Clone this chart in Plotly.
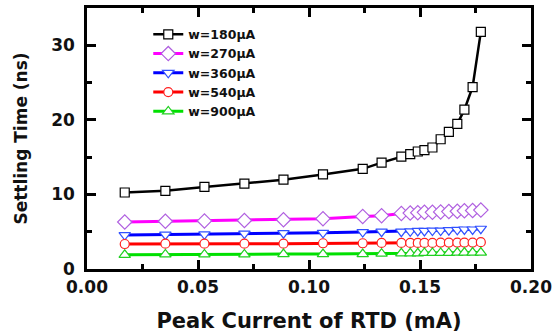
import plotly.graph_objects as go

# Peak current of RTD (mA)
peak_current = [0.0170, 0.0353, 0.0529, 0.0709, 0.0885, 0.1063, 0.1242, 0.1327,
                0.1416, 0.1456, 0.1490, 0.1520, 0.1556, 0.1593, 0.1630, 0.1668,
                0.1700, 0.1737, 0.1774]

# Settling time (ns) for each width
w180 = [10.26, 10.48, 11.0, 11.45, 11.98, 12.68, 13.43, 14.27, 15.06, 15.4,
        15.76, 15.94, 16.29, 17.4, 18.4, 19.46, 21.36, 24.4, 31.8]
w270 = [6.3, 6.4, 6.45, 6.5, 6.6, 6.75, 7.05, 7.15, 7.45, 7.5, 7.55, 7.6,
        7.6, 7.65, 7.7, 7.75, 7.8, 7.85, 7.9]
w360 = [4.55, 4.6, 4.65, 4.75, 4.8, 4.85, 4.95, 5.0, 5.0, 5.05, 5.1, 5.1,
        5.15, 5.15, 5.2, 5.25, 5.3, 5.3, 5.4]
w540 = [3.35, 3.4, 3.4, 3.4, 3.4, 3.45, 3.45, 3.5, 3.5, 3.5, 3.5, 3.5, 3.5,
        3.55, 3.55, 3.55, 3.55, 3.55, 3.6]
w900 = [1.9, 1.95, 1.95, 1.95, 2.0, 2.0, 2.0, 2.05, 2.1, 2.1, 2.1, 2.15,
        2.15, 2.15, 2.15, 2.2, 2.2, 2.2, 2.2]

names = ["w=180μA", "w=270μA", "w=360μA", "w=540μA", "w=900μA"]
series = [w180, w270, w360, w540, w900]
line_colors = ["#000000", "#ff00ff", "#0000ff", "#ff0000", "#00e000"]
marker_edge = ["#000000", "#b060e0", "#3050ff", "#ff2020", "#20d020"]
symbols = ["square", "diamond", "triangle-down", "circle", "triangle-up"]
sizes = [9, 11, 10, 9, 10]
widths = [2.5, 3, 3, 3, 3]

fig = go.Figure()
for name, ys, lc, mc, sym, sz, lw in zip(names, series, line_colors, marker_edge,
                                         symbols, sizes, widths):
    fig.add_trace(go.Scatter(
        x=peak_current, y=ys, name=name, mode="lines+markers",
        line=dict(color=lc, width=lw),
        marker=dict(symbol=sym, size=sz, color="white",
                    line=dict(color=mc, width=1.2)),
    ))

axis_font = dict(family="DejaVu Sans", size=17, color="#111111", weight="bold")
title_font_x = dict(family="DejaVu Sans", size=21, color="#111111", weight="bold")
title_font_y = dict(family="DejaVu Sans", size=17, color="#111111", weight="bold")

fig.update_layout(
    width=557, height=335,
    margin=dict(l=87, r=25, t=5, b=65),
    paper_bgcolor="white", plot_bgcolor="white",
    showlegend=True,
    legend=dict(x=0.138, y=0.955, xanchor="left", yanchor="top",
                bgcolor="rgba(0,0,0,0)",
                font=dict(family="DejaVu Sans", size=12.5, color="#111111",
                          weight="bold"),
                tracegroupgap=0, itemwidth=30),
    xaxis=dict(range=[0, 0.2], dtick=0.05, tick0=0, tickformat=".2f",
               ticks="inside", ticklen=9, tickwidth=2.5, tickcolor="black",
               showline=True, linewidth=2.5, linecolor="black",
               mirror="allticks", showgrid=False, zeroline=False,
               minor=dict(dtick=0.025, ticks="inside", ticklen=5,
                          tickwidth=2.5, tickcolor="black", showgrid=False),
               tickfont=axis_font, ticklabelstandoff=1,
               title=dict(text="Peak Current of RTD (mA)", font=title_font_x,
                          standoff=18)),
    yaxis=dict(range=[0, 35], dtick=10, tick0=0,
               ticks="inside", ticklen=9, tickwidth=2.5, tickcolor="black",
               showline=True, linewidth=2.5, linecolor="black",
               mirror="allticks", showgrid=False, zeroline=False,
               minor=dict(dtick=5, ticks="inside", ticklen=5,
                          tickwidth=2.5, tickcolor="black", showgrid=False),
               tickfont=axis_font, ticklabelstandoff=6,
               title=dict(text="Settling Time (ns)", font=title_font_y,
                          standoff=20)),
)

fig.write_html("out.html", config={"displayModeBar": False},
               post_script="document.body.style.margin='0';")
